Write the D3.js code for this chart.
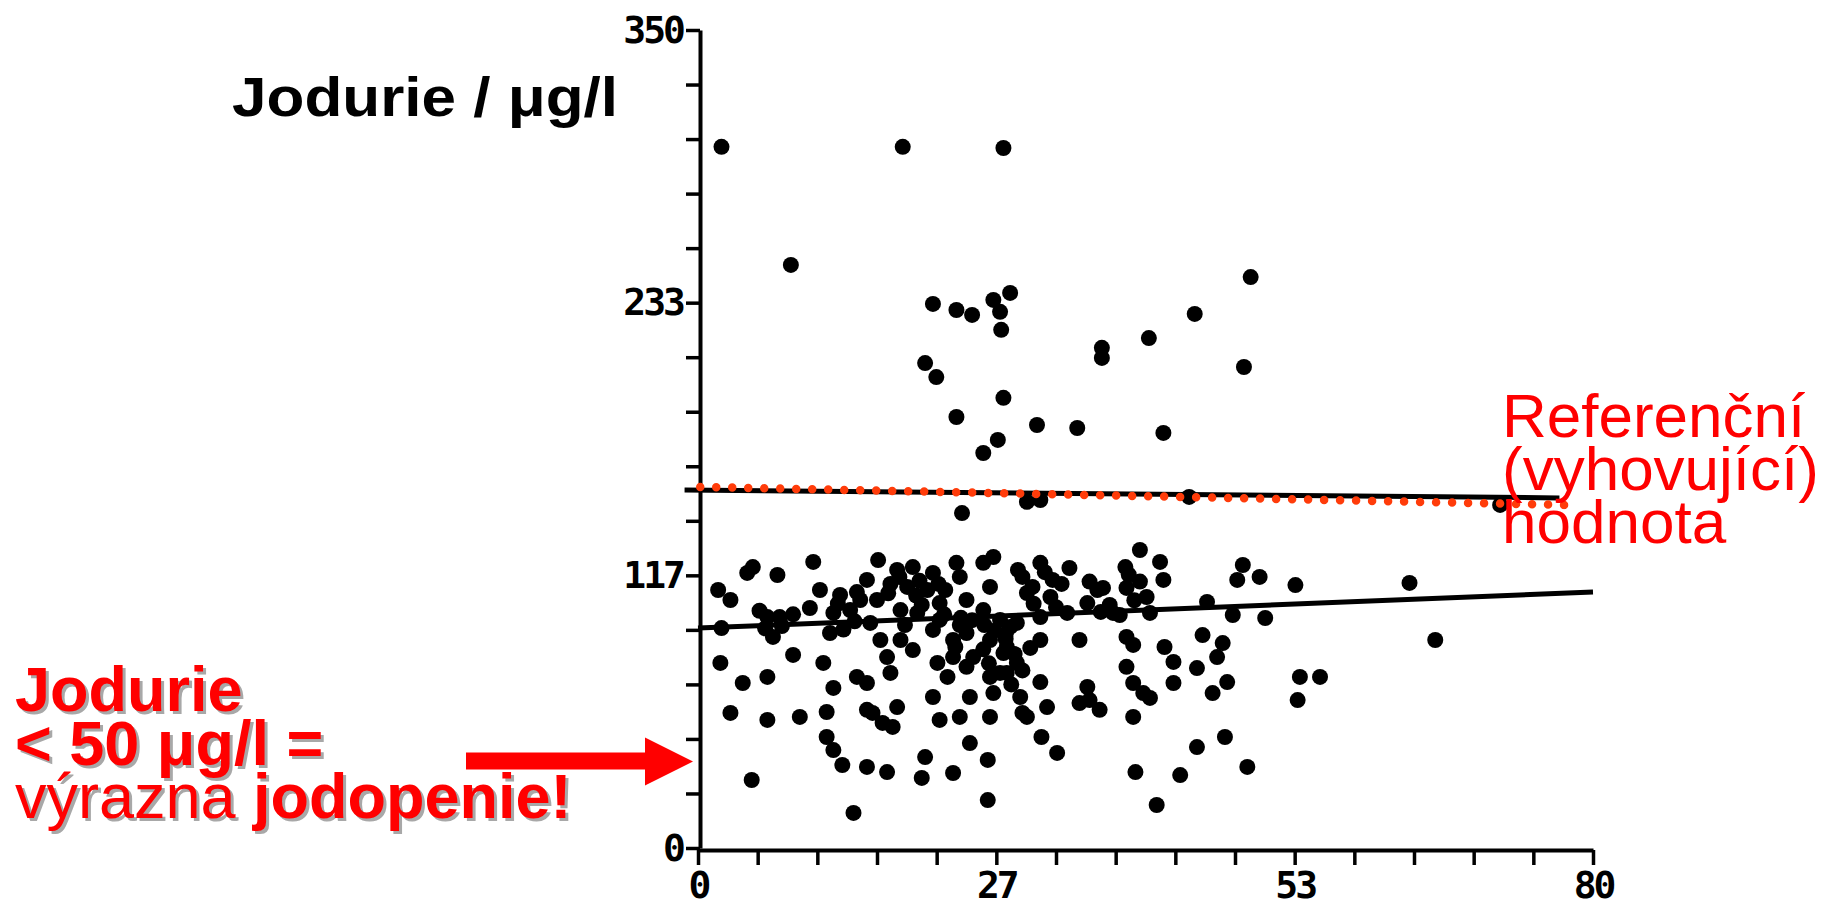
<!DOCTYPE html>
<html>
<head>
<meta charset="utf-8">
<script src="https://cdn.jsdelivr.net/npm/d3@7"></script>
<style>
  html, body { margin: 0; padding: 0; background: #fff; }
  svg { display: block; }
  .axis path, .axis line { stroke: #000; }
  .axis path { stroke-width: 4; }
  .axis line { stroke-width: 3.5; }
  .axis text { font-family: "DejaVu Sans Mono", monospace; font-weight: bold; font-size: 38px; letter-spacing: -3px; fill: #000; }
  .note { text-shadow: 3px 3px 0 #a8a8a8; }
</style>
</head>
<body>
<svg id="chart" width="1843" height="912"></svg>
<script>
// axis ticks: 15 intervals, a label every 5th
const xTickCount = 15, xMax = 80;
const yTickCount = 15, yMax = 350;

// fitted lines and the reference level (x, jodurie)
const lowerFit = [[0, 94.1], [80, 109.5]];
const upperFit = [[-1.2, 153.2], [77, 149.8]];
const refLine = [[0.2, 154.5], [77.5, 146.8]];

// scatter: [x, jodurie µg/l]
const points = [
  [2.1,300.0],[18.3,300.0],[27.3,299.5],[8.3,249.5],
  [21.0,232.8],[23.1,230.2],[24.5,228.1],[26.4,234.5],[27.9,237.5],[27.0,229.4],[27.1,221.7],
  [49.4,244.3],[44.4,228.5],[40.3,218.2],[36.1,214.0],[36.1,209.7],[20.3,207.5],[21.3,201.5],[48.8,205.8],
  [27.3,192.6],[23.1,184.4],[30.3,181.0],[33.9,179.7],[26.8,174.6],[25.5,169.0],[41.6,177.6],
  [23.6,143.3],[29.4,148.1],[30.6,148.9],[43.9,150.2],[71.7,146.8],
  [39.5,127.5],[41.3,122.4],[38.2,120.2],[48.7,121.1],[50.2,116.0],[48.2,114.7],[41.6,114.7],[53.4,112.5],
  [63.6,113.4],[36.2,111.3],[38.3,111.3],[40.1,107.4],[37.7,99.7],[40.4,100.6],[45.5,105.3],[47.8,99.7],
  [50.7,98.4],[37.1,100.6],
  [28.6,119.0],[30.6,122.0],[33.2,119.8],[29.9,111.7],[31.7,114.7],[29.4,109.1],[31.5,107.4],[35.7,110.4],
  [34.8,104.8],[33.0,100.6],[30.6,98.8],
  [27.9,94.6],[27.6,86.0],[30.6,89.0],[29.7,85.6],[34.1,89.0],[38.3,90.3],[38.9,86.9],[45.1,91.1],
  [41.7,86.0],[46.9,87.7],[46.4,81.7],[42.5,79.6],[38.3,77.5],[44.6,77.0],[28.5,79.2],[27.6,74.9],
  [30.6,71.0],[38.9,70.6],[39.8,66.3],[42.5,70.6],[34.8,68.9],[34.1,62.0],[35.9,59.1],[28.8,64.6],
  [29.4,56.1],[31.2,60.3],[47.3,71.0],[46.0,66.3],[38.9,56.1],[53.8,73.2],[55.6,73.2],[53.6,63.3],
  [40.4,64.2],[47.1,47.5],[44.6,43.2],[39.1,32.5],[43.1,31.2],[49.1,34.7],[41.0,18.4],[65.9,89.0],
  [4.4,117.7],[4.9,120.2],[7.1,116.8],[10.3,122.4],[1.8,110.4],[2.9,106.1],[10.9,110.4],[10.0,102.7],
  [16.1,123.2],[14.2,109.5],[15.1,114.7],[16.0,106.1],[17.8,119.0],[19.2,120.2],[18.7,111.7],[20.5,110.4],
  [21.0,117.7],[23.1,122.0],[23.4,116.0],[25.5,122.0],[26.4,124.5],[26.1,111.7],
  [6.2,98.8],[7.3,98.8],[6.7,90.3],[12.1,100.6],[13.6,101.8],[11.8,92.0],[15.4,96.3],[18.1,101.8],
  [19.6,100.6],[21.6,104.8],[24.0,106.1],[25.5,101.8],[27.0,97.6],[28.5,96.3],
  [16.3,89.0],[18.1,89.0],[19.2,84.7],[16.9,81.7],[21.0,93.3],[22.8,89.0],[24.0,92.0],[26.1,89.0],
  [22.8,81.7],[24.6,81.7],[27.3,83.4],
  [2.0,79.2],[8.5,82.6],[11.2,79.2],[4.0,70.6],[6.2,73.2],[14.2,73.2],[15.1,70.6],[17.2,74.9],
  [12.1,68.5],[21.4,79.2],[22.3,73.2],[21.0,64.6],[26.1,73.2],[26.4,66.3],[24.3,64.6],
  [2.9,57.8],[6.2,54.8],[9.1,56.1],[11.5,58.2],[15.1,59.1],[17.8,60.3],[16.5,53.5],[23.4,56.1],
  [26.1,56.1],[21.6,54.8],[15.6,57.8],[17.4,51.8],
  [4.8,29.1],[11.5,47.5],[12.1,41.9],[12.9,35.5],[15.1,34.7],[16.9,32.5],[20.0,30.0],[20.3,38.9],
  [22.8,32.1],[24.3,44.9],[25.9,37.7],[25.9,20.5],[32.1,40.7],[30.7,47.5],[29.0,57.8],[13.9,15.0],
  [27.0,74.9],[35.0,63.3],[2.1,94.1],
  [17.2,113.0],[19.8,114.3],[22.1,110.4],[18.5,95.4],[21.6,97.6],[23.4,95.4],[25.6,95.4],[14.5,106.1],
  [12.7,108.3],
  // dense band, overlapping blobs
  [18.0,116.0],[19.5,108.0],[21.5,113.0],[20.0,104.0],[17.0,109.0],
  [22.0,100.0],[24.5,97.5],[26.5,93.0],[23.0,86.0],[25.5,85.0],[27.5,89.5],[24.0,77.5],[26.0,79.0],[23.5,98.5],
  [12.5,104.5],[14.0,97.0],[13.0,93.5],[5.5,101.5],[7.5,95.0],[8.5,100.0],[6.0,94.0],
  [29.0,116.0],[31.0,118.0],[32.5,113.0],[30.0,104.5],[32.0,103.0],
  [27.5,91.5],[28.3,83.0],[28.0,70.0],[29.0,76.0],
  [38.5,117.0],[39.0,106.0],[39.5,114.0],[36.8,104.0],[35.0,114.0],[36.0,101.0]
];

// annotation texts
const yTitle = 'Jodurie / μg/l';
const refLabel = ['Referenční', '(vyhovující)', 'hodnota'];
const lowLevel = 37;   // where the red arrow points

const svg = d3.select('#chart');
svg.append('rect').attr('width', 1843).attr('height', 912).attr('fill', '#fff');

const x = d3.scaleLinear().domain([0, xMax]).range([698, 1593]);
const y = d3.scaleLinear().domain([0, yMax]).range([848, 30]);

const xTicks = d3.range(xTickCount + 1).map(i => i * xMax / xTickCount);
const yTicks = d3.range(yTickCount + 1).map(i => i * yMax / yTickCount);

svg.append('g')
  .attr('class', 'axis')
  .attr('transform', 'translate(0,850)')
  .call(d3.axisBottom(x).tickValues(xTicks).tickSize(15).tickSizeOuter(0).tickPadding(6)
    .tickFormat((d, i) => i % 5 === 0 ? Math.round(d) : ''));

svg.append('g')
  .attr('class', 'axis')
  .attr('transform', 'translate(700,0)')
  .call(d3.axisLeft(y).tickValues(yTicks).tickSize(14).tickSizeOuter(0).tickPadding(3)
    .tickFormat((d, i) => i % 5 === 0 ? Math.round(d) : ''));

const line = d3.line().x(d => x(d[0])).y(d => y(d[1]));

// black fit lines
svg.append('path').datum(lowerFit).attr('d', line)
  .attr('fill', 'none').attr('stroke', '#000').attr('stroke-width', 5);
svg.append('path').datum(upperFit).attr('d', line)
  .attr('fill', 'none').attr('stroke', '#000').attr('stroke-width', 5);

// points
svg.append('g')
  .selectAll('circle')
  .data(points)
  .join('circle')
  .attr('cx', d => x(d[0]))
  .attr('cy', d => y(d[1]))
  .attr('r', 8)
  .attr('fill', '#000');

// red dotted reference line
svg.append('path').datum(refLine).attr('d', line)
  .attr('fill', 'none').attr('stroke', '#ff3c0a').attr('stroke-width', 8.5)
  .attr('stroke-linecap', 'round').attr('stroke-dasharray', '0 16');

// y title
svg.append('text')
  .attr('x', 232).attr('y', 116)
  .attr('font-family', 'Liberation Sans, Arial, sans-serif')
  .attr('font-weight', 'bold').attr('font-size', 56)
  .attr('textLength', 386).attr('lengthAdjust', 'spacingAndGlyphs')
  .text(yTitle);

// reference label
const ref = svg.append('text')
  .attr('font-family', 'Liberation Sans, Arial, sans-serif')
  .attr('font-size', 62).attr('fill', '#ff0000');
refLabel.forEach((t, i) => {
  ref.append('tspan').attr('x', 1502).attr('y', 437 + i * 53).text(t);
});

// lower-left note, grey shadow via css
const note = svg.append('text')
  .attr('class', 'note')
  .attr('font-family', 'Liberation Sans, Arial, sans-serif')
  .attr('font-size', 63).attr('fill', '#ff0000');
note.append('tspan').attr('x', 15).attr('y', 711).attr('font-weight', 'bold').text('Jodurie');
note.append('tspan').attr('x', 15).attr('y', 765).attr('font-weight', 'bold').text('< 50 μg/l =');
note.append('tspan').attr('x', 15).attr('y', 818).text('výrazna ');
note.append('tspan').attr('font-weight', 'bold').text('jodopenie!');

// red arrow pointing at the low level
const tipX = x(0) - 5, tipY = y(lowLevel);
svg.append('path')
  .attr('d', `M${tipX - 227},${tipY - 9} L${tipX - 48},${tipY - 9} L${tipX - 48},${tipY - 24}
              L${tipX},${tipY} L${tipX - 48},${tipY + 24} L${tipX - 48},${tipY + 8}
              L${tipX - 227},${tipY + 8} Z`)
  .attr('fill', '#ff0000');
</script>
</body>
</html>
